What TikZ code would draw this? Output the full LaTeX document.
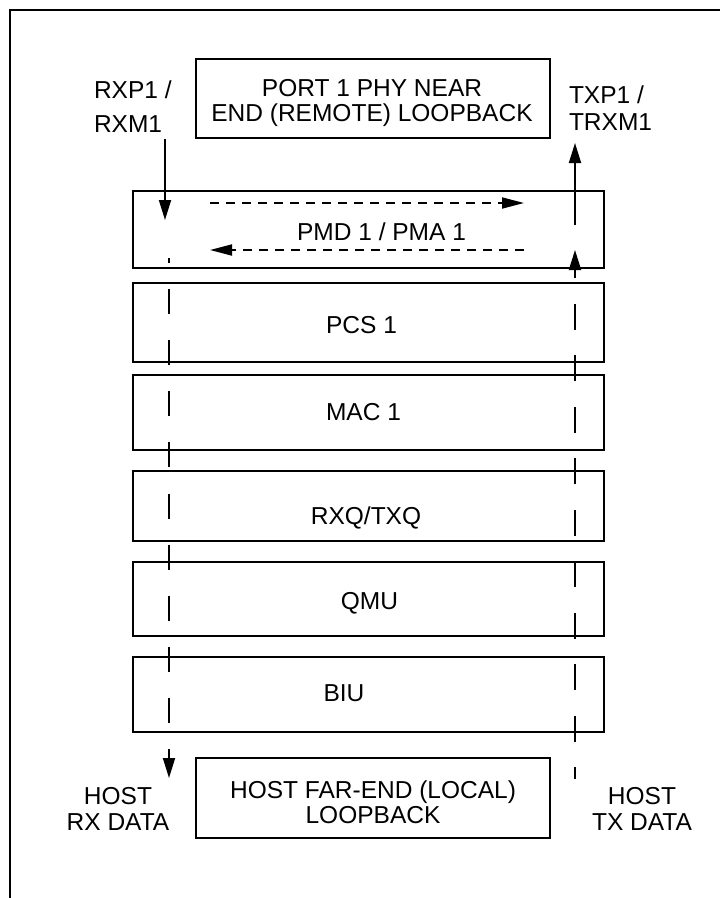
\documentclass[tikz,border=0pt]{standalone}
\usepackage{fontspec}
\setmainfont{Liberation Sans}
\usetikzlibrary{arrows.meta}
\begin{document}
\begin{tikzpicture}[x=1pt,y=-1pt,
  box/.style={draw=black,line width=2pt,inner sep=0pt,outer sep=0pt,rectangle},
  txt/.style={inner sep=0pt,outer sep=0pt,font=\fontsize{24.5}{25}\selectfont},
  wire/.style={line width=1.8pt},
  bigtip/.style={-{Triangle[length=20pt,width=12pt]}},
  longdash/.style={line width=1.8pt,dash pattern=on 25pt off 26.1pt},
  finedash/.style={line width=1.8pt,dash pattern=on 9pt off 7pt,-{Triangle[length=22pt,width=11pt]}}
]
\useasboundingbox (0,0) rectangle (720,898);
% frame
\coordinate (fbl) at (10,898);
\coordinate (ftl) at (10,10);
\coordinate (ftr) at (720,10);
\draw[line width=2pt] (fbl) -- (ftl) -- (ftr);

% boxes
\node[box,minimum width=354pt,minimum height=79pt] (port) at (373,98.5) {};
\node[box,minimum width=470.5pt,minimum height=77.5pt] (pmd) at (368.25,229.25) {};
\node[box,minimum width=470.5pt,minimum height=79pt] (pcs) at (368.25,322.5) {};
\node[box,minimum width=470.5pt,minimum height=75pt] (mac) at (368.25,412.5) {};
\node[box,minimum width=470.5pt,minimum height=70pt] (rxq) at (368.25,506) {};
\node[box,minimum width=470.5pt,minimum height=74pt] (qmu) at (368.25,599) {};
\node[box,minimum width=470.5pt,minimum height=75pt] (biu) at (368.25,694.5) {};
\node[box,minimum width=354pt,minimum height=80pt] (host) at (373,798) {};

% texts (multi-line nodes: base = baseline of last line)
\node[txt,anchor=base,align=center,font=\fontsize{24.5}{25}\selectfont] (portt) at (372,121.8) {PORT 1 PHY NEAR\\END (REMOTE) LOOPBACK};
\node[txt,anchor=base west,align=left,font=\fontsize{24.5}{34}\selectfont] (rxl) at (94,132.8) {RXP1 /\\RXM1};
\node[txt,anchor=base west,align=left,font=\fontsize{24.5}{27}\selectfont] (txl) at (569,130.8) {TXP1 /\\TRXM1};
\node[txt,anchor=base] (pmdt) at (381.5,240.8) {PMD 1 / PMA 1};
\node[txt,anchor=base] (pcst) at (361.5,333.8) {PCS 1};
\node[txt,anchor=base] (mact) at (363.5,420.3) {MAC 1};
\node[txt,anchor=base] (rxqt) at (366,524.8) {RXQ/TXQ};
\node[txt,anchor=base] (qmut) at (369.5,609.8) {QMU};
\node[txt,anchor=base] (biut) at (344,701.8) {BIU};
\node[txt,anchor=base,align=center,font=\fontsize{24.5}{25}\selectfont] (hostt) at (373,823.8) {HOST FAR-END (LOCAL)\\LOOPBACK};
\node[txt,anchor=base,align=center,font=\fontsize{24.5}{26}\selectfont] (hrx) at (118,830.8) {HOST\\RX DATA};
\node[txt,anchor=base,align=center,font=\fontsize{24.5}{26}\selectfont] (htx) at (642,830.8) {HOST\\TX DATA};

% connector points
\coordinate (rx1) at (165,139);
\coordinate (rx2) at (165,220);
\coordinate (rxd1) at (169,258);
\coordinate (rxd2) at (169,778);
\coordinate (tx1) at (575,225);
\coordinate (tx2) at (575,143);
\coordinate (txd1) at (575,779);
\coordinate (txd2) at (575,250);
\coordinate (lb1) at (210,203);
\coordinate (lb2) at (524,203);
\coordinate (lb3) at (524,250);
\coordinate (lb4) at (210,250);

% connectors
\draw[wire,bigtip] (rx1) -- (rx2);
\draw[longdash,dash phase=20pt,bigtip] (rxd1) -- (rxd2);
\draw[wire,bigtip] (tx1) -- (tx2);
\draw[line width=1.8pt,dash pattern=on 26pt off 25.5pt,dash phase=14pt,bigtip] (txd1) -- (txd2);
\draw[finedash] (lb1) -- (lb2);
\draw[finedash] (lb3) -- (lb4);
\end{tikzpicture}
\end{document}
